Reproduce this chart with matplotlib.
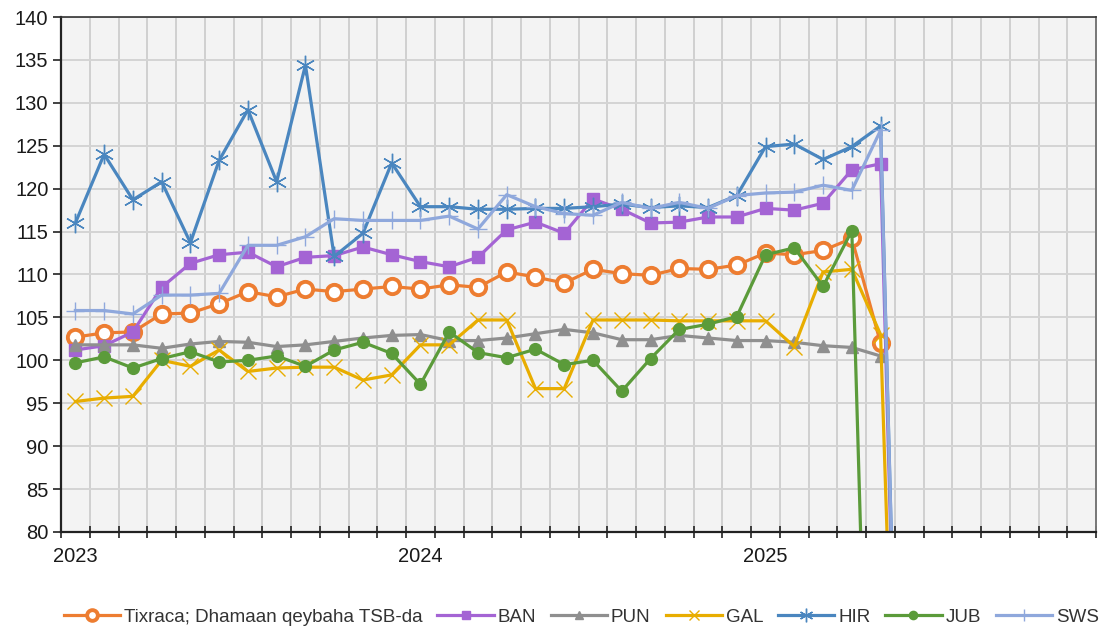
import numpy as np
import matplotlib.pyplot as plt

nan = np.nan

# Jan 2023 .. Dec 2025 (monthly categories)
months = [f"{y}-{m:02d}" for y in (2023, 2024, 2025) for m in range(1, 13)]
year_labels = ["2023", "2024", "2025"]

tixraca = [102.7, 103.2, 103.3, 105.4, 105.5, 106.6, 108.0, 107.4, 108.3, 108.0, 108.3, 108.6,
           108.3, 108.8, 108.5, 110.3, 109.7, 109.0, 110.6, 110.1, 109.9, 110.7, 110.6, 111.1,
           112.5, 112.3, 112.8, 114.2, 102.0]
ban = [101.2, 101.7, 103.3, 108.5, 111.3, 112.3, 112.6, 110.9, 112.0, 112.2, 113.2, 112.3,
       111.5, 110.9, 112.0, 115.2, 116.1, 114.8, 118.8, 117.6, 116.0, 116.1, 116.7, 116.7,
       117.7, 117.5, 118.3, 122.2, 122.9, 0.0]
pun = [101.8, 101.8, 101.8, 101.4, 101.9, 102.2, 102.1, 101.6, 101.8, 102.2, 102.6, 102.9,
       103.0, 102.3, 102.3, 102.6, 103.1, 103.6, 103.2, 102.4, 102.4, 102.9, 102.6, 102.3,
       102.3, 102.1, 101.7, 101.5, 100.5]
gal = [95.2, 95.6, 95.8, 100.0, 99.3, 101.2, 98.7, 99.1, 99.2, 99.2, 97.7, 98.3,
       101.8, 101.8, 104.7, 104.7, 96.7, 96.7, 104.7, 104.7, 104.7, 104.6, 104.6, 104.6,
       104.6, 101.6, 110.3, 110.6, 103.0, 0.0]
hir = [116.0, 124.0, 118.7, 120.8, 113.7, 123.3, 129.2, 120.8, 134.4, 112.1, 114.8, 123.0,
       117.9, 117.9, 117.6, 117.6, 117.7, 117.7, 117.9, 118.2, 117.8, 118.0, 117.8, 119.2,
       124.9, 125.2, 123.4, 124.9, 127.3, 0.0]
jub = [99.7, 100.4, 99.1, 100.2, 101.0, 99.8, 100.0, 100.5, 99.3, 101.2, 102.1, 100.8,
       97.2, 103.3, 100.9, 100.3, 101.3, 99.5, 100.0, 96.4, 100.2, 103.6, 104.2, 105.1,
       112.3, 113.1, 108.6, 115.1, 0.0]
sws = [105.8, 105.8, 105.4, 107.6, 107.6, 107.8, 113.4, 113.4, 114.4, 116.5, 116.3, 116.3,
       116.3, 116.8, 115.3, 119.3, 117.9, 117.1, 116.9, 118.4, 117.7, 118.4, 117.7, 119.2,
       119.5, 119.6, 120.4, 119.8, 126.8, 0.0]


def pad(vals):
    return vals + [nan] * (len(months) - len(vals))


x = np.arange(len(months))

fig = plt.figure(figsize=(10.99, 6.31), dpi=100)
ax = fig.add_axes([0.0555, 0.157, 0.942, 0.816])
ax.set_facecolor("#f3f3f3")

lw = 2.3
ax.plot(x, pad(tixraca), color="#ed7d31", lw=lw, marker="o", ms=11, mfc="white", mec="#ed7d31",
        mew=2.8, label="Tixraca; Dhamaan qeybaha TSB-da")
ax.plot(x, pad(ban), color="#a464d4", lw=lw, marker="s", ms=8.5, label="BAN")
ax.plot(x, pad(pun), color="#8f8f8f", lw=lw, marker="^", ms=8.5, label="PUN")
ax.plot(x, pad(gal), color="#e8ad00", lw=lw, marker="x", ms=11, mew=1.0, label="GAL")
ax.plot(x, pad(hir), color="#4a86bf", lw=lw, marker=(6, 2, 0), ms=14, mew=1.0, label="HIR")
ax.plot(x, pad(jub), color="#5b9b3a", lw=lw, marker="o", ms=8.5, label="JUB")
ax.plot(x, pad(sws), color="#8fa8dc", lw=lw, marker="+", ms=13, mew=1.0, label="SWS")

ax.set_xlim(-0.5, len(months) - 0.5)
ax.set_ylim(80, 140)
ax.set_yticks(np.arange(80, 141, 5))
ax.set_xticks([0, 12, 24])
ax.set_xticklabels(year_labels)
ax.set_xticks(np.arange(-0.5, len(months), 1), minor=True)

ax.grid(True, axis="y", color="#d4d4d4", lw=1.4)
ax.grid(True, axis="x", which="minor", color="#d0d0d0", lw=1.4)
ax.set_axisbelow(True)

ax.tick_params(axis="x", which="major", length=0, labelsize=14.5, pad=11, labelcolor="#1a1a1a")
ax.tick_params(axis="x", which="minor", direction="inout", length=9, width=1.2, color="#222222")
ax.tick_params(axis="y", length=6, width=1.2, labelsize=14.5, pad=3, color="#222222",
               labelcolor="#1a1a1a")

for side in ("left", "bottom"):
    ax.spines[side].set_color("#222222")
    ax.spines[side].set_linewidth(1.6)
ax.spines["top"].set_color("#333333")
ax.spines["top"].set_linewidth(1.2)
ax.spines["right"].set_color("#777777")
ax.spines["right"].set_linewidth(1.4)

for lab in ax.get_xticklabels() + ax.get_yticklabels():
    lab.set_family("Liberation Sans")

leg = fig.legend(loc="center", bbox_to_anchor=(0.529, 0.022), ncol=7, frameon=False,
                 prop={"family": "Liberation Sans", "size": 13.5}, handlelength=3.0,
                 columnspacing=0.8, handletextpad=0.2, markerscale=0.7)
for t in leg.get_texts():
    t.set_color("#333333")

fig.savefig("out.png", dpi=100)
